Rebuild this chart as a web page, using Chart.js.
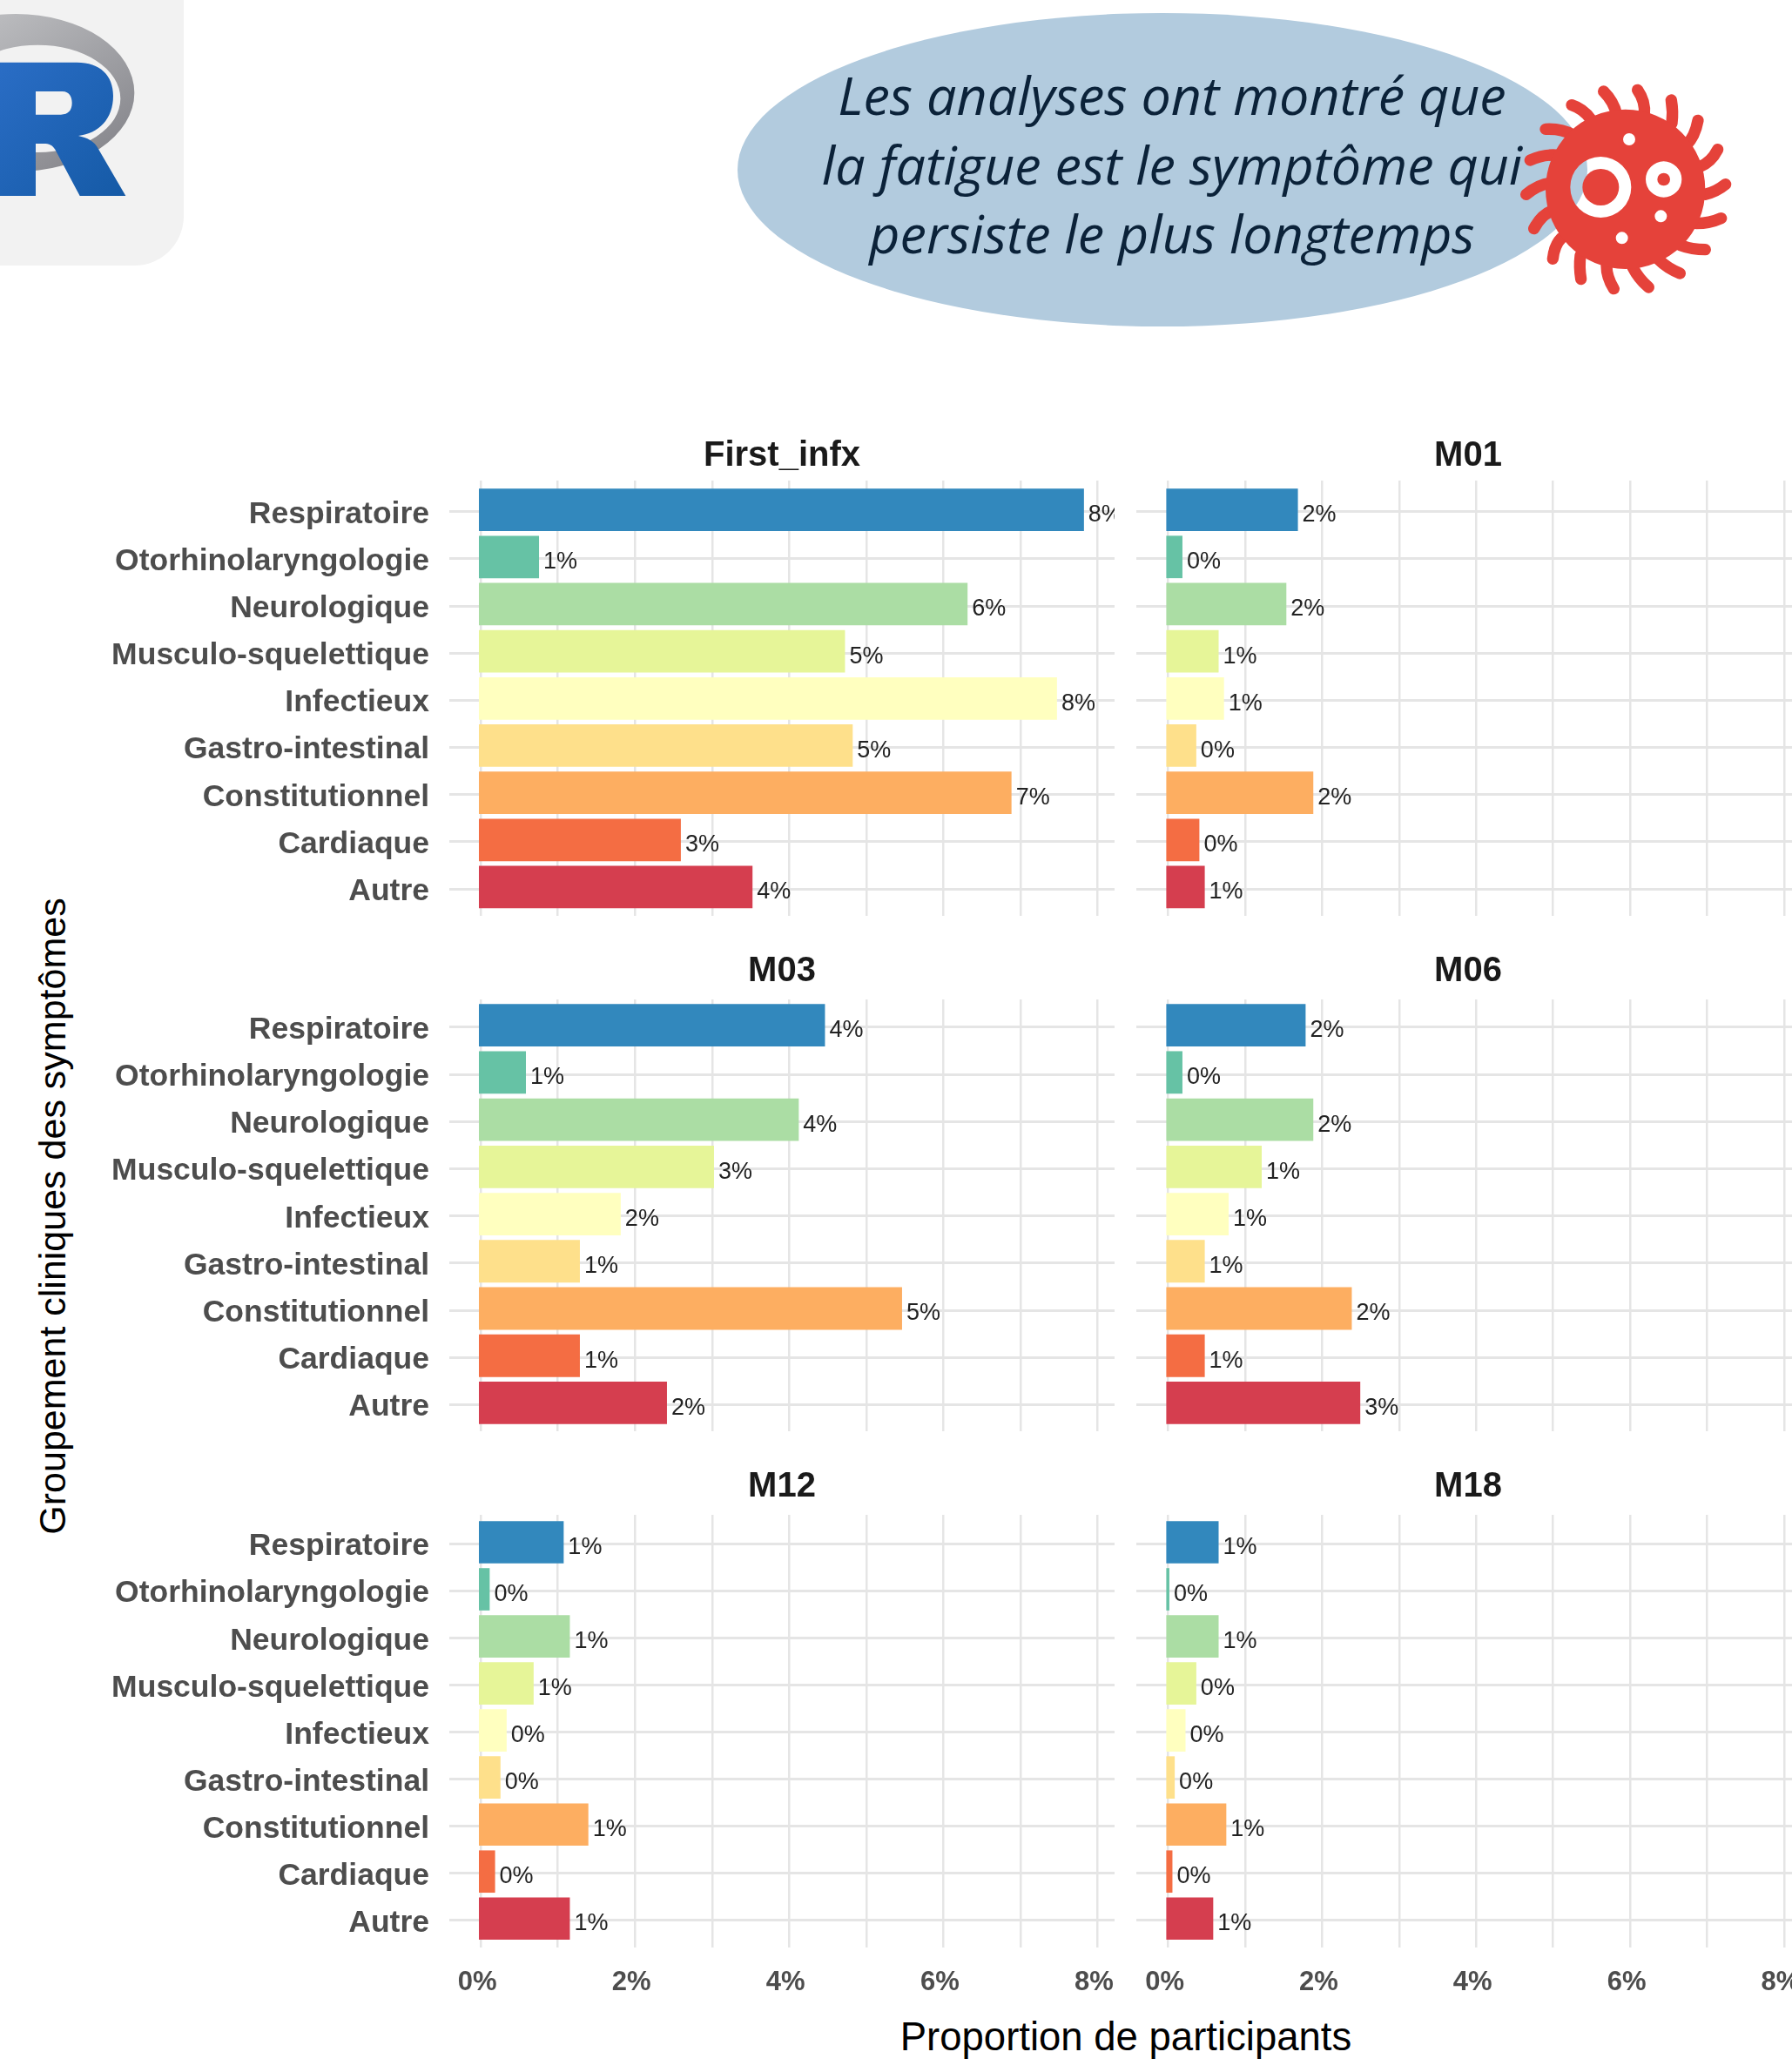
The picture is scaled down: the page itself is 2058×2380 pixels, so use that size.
<!DOCTYPE html>
<html lang="fr">
<head>
<meta charset="utf-8">
<title>Groupement cliniques des symptômes</title>
<script src="https://cdn.jsdelivr.net/npm/chart.js@4"></script>
<style>
    html, body { margin: 0; padding: 0; background: #fff; width: 2058px; height: 2380px; overflow: hidden; }
    canvas, svg, .txt { position: absolute; }
    .txt { font-family: "Liberation Sans", Arial, sans-serif; white-space: nowrap; color: #000; }
    .bubble { font-family: "Open Sans", sans-serif; font-style: italic; font-size: 61px; color: #0b2239;
              left: 840px; width: 1012px; text-align: center; line-height: 80px; transform: translateY(-40px); }
</style>
</head>
<body>

<!-- logo R -->
<svg style="left:0;top:0" width="500" height="340" viewBox="0 0 1500 1020">
    <defs>
        <linearGradient id="ring" x1="0" y1="0" x2="1" y2="1">
            <stop offset="0" stop-color="#cbccce"/><stop offset="1" stop-color="#7f7f85"/>
        </linearGradient>
        <linearGradient id="blue" x1="0" y1="0" x2="1" y2="1">
            <stop offset="0" stop-color="#2a6dc5"/><stop offset="1" stop-color="#155aa6"/>
        </linearGradient>
    </defs>
    <path d="M-200,-10 H633 V745 A170,170 0 0 1 463,915 H-200 Z" fill="#f2f2f2"/>
    <path fill="url(#ring)" fill-rule="evenodd"
          d="M-353,320 A408,272 0 1 1 463,320 A408,272 0 1 1 -353,320 Z
             M-155,340 A285,185 0 1 0 415,340 A285,185 0 1 0 -155,340 Z"/>
    <path fill="url(#blue)" fill-rule="evenodd"
          d="M0,215 H265 C345,215 390,260 390,330 C390,410 340,460 270,468 C300,475 325,485 340,515 L433,675 H275
             L190,515 C180,500 170,495 150,495 H123 V675 H0 Z
             M123,315 H215 C240,315 248,335 248,355 C248,380 235,395 210,395 H123 Z"/>
</svg>

<!-- bulle -->
<svg style="left:0;top:0" width="2058" height="400">
    <ellipse cx="1335" cy="195" rx="488" ry="180" fill="#b2cbde"/>
</svg>
<div class="txt bubble" style="top:109px">Les analyses ont montré que</div>
<div class="txt bubble" style="top:189px">la fatigue est le symptôme qui</div>
<div class="txt bubble" style="top:268px">persiste le plus longtemps</div>

<!-- virus -->
<svg style="left:1650px;top:60px" width="400" height="300" viewBox="0 0 1200 900">
    <g fill="none" stroke="#e5423a" stroke-width="40" stroke-linecap="round">
        <path d="M620,215 Q610,170 575,135"/><path d="M530,230 Q505,195 465,182"/>
        <path d="M470,285 Q430,262 375,265"/><path d="M420,355 Q370,350 322,372"/>
        <path d="M395,450 Q350,455 308,490"/><path d="M400,545 Q360,560 335,608"/>
        <path d="M430,640 Q405,665 400,712"/><path d="M495,700 Q490,740 497,782"/>
        <path d="M585,735 Q585,775 610,815"/><path d="M675,740 Q695,780 730,810"/>
        <path d="M765,715 Q795,745 838,762"/><path d="M840,665 Q880,680 925,680"/>
        <path d="M895,590 Q940,590 980,572"/><path d="M925,490 Q965,480 995,455"/>
        <path d="M905,395 Q945,380 968,335"/><path d="M860,320 Q890,290 900,235"/>
        <path d="M810,245 Q815,205 808,165"/><path d="M715,215 Q720,170 692,130"/>
    </g>
    <path fill="#e5423a" fill-rule="evenodd"
          d="M375,472 A275,275 0 1 1 925,472 A275,275 0 1 1 375,472 Z
             M460,465 A105,105 0 1 0 670,465 A105,105 0 1 0 460,465 Z
             M720,438 A62,62 0 1 0 844,438 A62,62 0 1 0 720,438 Z
             M642,300 A21,21 0 1 0 684,300 A21,21 0 1 0 642,300 Z
             M751,565 A21,21 0 1 0 793,565 A21,21 0 1 0 751,565 Z
             M617,640 A21,21 0 1 0 659,640 A21,21 0 1 0 617,640 Z"/>
    <circle cx="565" cy="465" r="63" fill="#e5423a"/>
    <circle cx="782" cy="438" r="22" fill="#e5423a"/>
</svg>

<div class="txt" id="y-title" style="left:60px;top:1397px;font-size:43px;transform:translate(-50%,-50%) rotate(-90deg)">Groupement cliniques des symptômes</div>
<div class="txt" id="x-title" style="left:1293px;top:2340px;font-size:45.5px;transform:translate(-50%,-50%)">Proportion de participants</div>

<script>
    const categories = ["Respiratoire", "Otorhinolaryngologie", "Neurologique", "Musculo-squelettique", "Infectieux", "Gastro-intestinal", "Constitutionnel", "Cardiaque", "Autre"];
    const bar_colours = ["#3288bd", "#66c2a5", "#abdda4", "#e6f598", "#ffffbf", "#fee08b", "#fdae61", "#f46d43", "#d53e4f"];
    const x_ticks = [0, 1, 2, 3, 4, 5, 6, 7, 8];

    const first_infx = [7.85, 0.78, 6.34, 4.75, 7.50, 4.85, 6.91, 2.62, 3.55];
    const m01 = [1.71, 0.21, 1.56, 0.68, 0.75, 0.39, 1.91, 0.43, 0.50];
    const m03 = [4.49, 0.61, 4.15, 3.05, 1.84, 1.31, 5.49, 1.31, 2.44];
    const m06 = [1.81, 0.21, 1.91, 1.24, 0.81, 0.50, 2.41, 0.50, 2.52];
    const m12 = [1.10, 0.14, 1.18, 0.71, 0.36, 0.28, 1.42, 0.21, 1.18];
    const m18 = [0.68, 0.04, 0.68, 0.39, 0.25, 0.11, 0.78, 0.08, 0.61];

    // the grid of the picture sits a little off the bars, so ticks are shifted by this much
    const x_shift = 0.025;
    const y_shift = 0.04;

    const font_family = '"Liberation Sans", Arial, sans-serif';
    const head_height = 60;   // room above each plot for the panel title

    const rows = [
        { plotTop: 552, plotBottom: 1052, yMin: -0.62, yMax: 8.61, titleGap: 28 },
        { plotTop: 1148, plotBottom: 1644, yMin: -0.546, yMax: 8.6, titleGap: 32 },
        { plotTop: 1740, plotBottom: 2237, yMin: -0.583, yMax: 8.615, titleGap: 32 }
    ];
    const cols = [
        { left: 0, width: 1280, axisWidth: 516, xMin: -0.384, xMax: 8.247 },
        { left: 1305, width: 762, axisWidth: 0, xMin: -0.389, xMax: 8.23 }
    ];

    // panel title and the percent label at the end of each bar, cut by the panel like in ggplot
    const panelText = {
        id: "panelText",
        afterDatasetsDraw(chart, args, opts) {
            const ctx = chart.ctx;
            const area = chart.chartArea;

            ctx.save();
            ctx.font = "bold 40px " + font_family;
            ctx.fillStyle = "#1a1a1a";
            ctx.textAlign = "center";
            ctx.textBaseline = "middle";
            ctx.fillText(opts.name, (area.left + area.right) / 2, area.top - opts.titleGap);
            ctx.restore();

            ctx.save();
            ctx.beginPath();
            ctx.rect(area.left, area.top, area.right - area.left, area.bottom - area.top);
            ctx.clip();
            ctx.font = "27px " + font_family;
            ctx.fillStyle = "#222222";
            ctx.textAlign = "left";
            ctx.textBaseline = "middle";
            chart.getDatasetMeta(0).data.forEach((bar, i) => {
                const v = chart.data.datasets[0].data[i].x;
                ctx.fillText(Math.round(v) + "%", bar.x + 5, bar.y + 6);
            });
            ctx.restore();
        }
    };

    function drawPanel(name, values, row, col) {
        const r = rows[row];
        const c = cols[col];
        const is_bottom = row === rows.length - 1;
        const axis_height = is_bottom ? 80 : 0;

        const canvas = document.createElement("canvas");
        canvas.width = c.width;
        canvas.height = head_height + (r.plotBottom - r.plotTop) + axis_height;
        canvas.style.left = c.left + "px";
        canvas.style.top = (r.plotTop - head_height) + "px";
        document.body.appendChild(canvas);

        new Chart(canvas.getContext("2d"), {
            type: "bar",
            data: {
                datasets: [{
                    data: values.map((v, i) => ({ x: v, y: i })),
                    backgroundColor: bar_colours,
                    borderWidth: 0,
                    barPercentage: 0.9,
                    categoryPercentage: 1
                }]
            },
            options: {
                indexAxis: "y",
                responsive: false,
                animation: false,
                layout: { padding: { top: head_height }, autoPadding: false },
                plugins: {
                    legend: { display: false },
                    tooltip: { enabled: false },
                    panelText: { name: name, titleGap: r.titleGap }
                },
                scales: {
                    x: {
                        type: "linear",
                        min: c.xMin,
                        max: c.xMax,
                        border: { display: false },
                        grid: { color: "#e5e5e5", lineWidth: 2.5, drawTicks: false },
                        afterBuildTicks: (axis) => { axis.ticks = x_ticks.map(v => ({ value: v + x_shift })); },
                        afterFit: (axis) => {
                            axis.height = axis_height;
                            axis.paddingLeft = 0;
                            axis.paddingRight = 0;
                        },
                        ticks: {
                            display: is_bottom,
                            autoSkip: false,
                            maxRotation: 0,
                            padding: 22,
                            labelOffset: -4,
                            color: "#4d4d4d",
                            font: { family: font_family, size: 31, weight: "bold" },
                            callback: (v) => {
                                const n = Math.round(v);
                                return n % 2 === 0 ? n + "%" : "";
                            }
                        }
                    },
                    y: {
                        type: "linear",
                        reverse: true,
                        offset: false,
                        min: r.yMin,
                        max: r.yMax,
                        border: { display: false },
                        grid: { color: "#e5e5e5", lineWidth: 3, drawTicks: false, offset: false },
                        afterBuildTicks: (axis) => { axis.ticks = categories.map((cat, i) => ({ value: i + y_shift })); },
                        afterFit: (axis) => {
                            axis.width = c.axisWidth;
                            axis.paddingTop = 0;
                            axis.paddingBottom = 0;
                        },
                        ticks: {
                            display: col === 0,
                            autoSkip: false,
                            padding: 23,
                            labelOffset: 3,
                            color: "#4d4d4d",
                            font: { family: font_family, size: 35.5, weight: "bold" },
                            callback: (v) => categories[Math.round(v)]
                        }
                    }
                }
            },
            plugins: [panelText]
        });
    }

    drawPanel("First_infx", first_infx, 0, 0);
    drawPanel("M01", m01, 0, 1);
    drawPanel("M03", m03, 1, 0);
    drawPanel("M06", m06, 1, 1);
    drawPanel("M12", m12, 2, 0);
    drawPanel("M18", m18, 2, 1);
</script>
</body>
</html>
